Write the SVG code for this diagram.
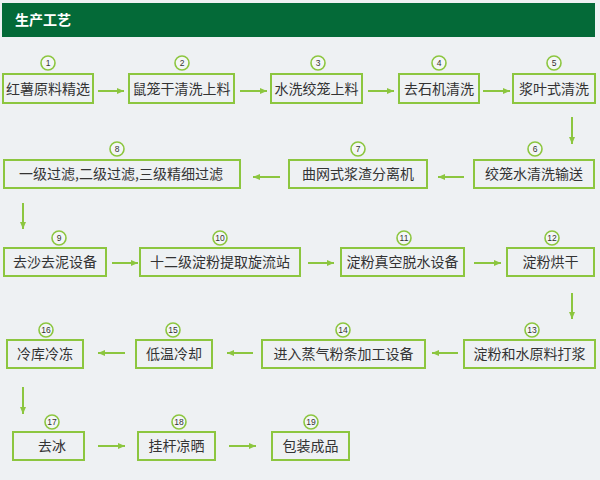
<svg xmlns="http://www.w3.org/2000/svg" width="600" height="480" viewBox="0 0 600 480">
<defs>
<style>
.box{fill:#eef1f3;stroke:#8cc63f;stroke-width:2}
.t{font-family:"Noto Sans CJK SC","Liberation Sans",sans-serif;font-size:14px;fill:#333;text-anchor:middle}
.c{fill:#f4f6f7;stroke:#8cc63f;stroke-width:1.6}
.n{font-family:"Liberation Sans","Noto Sans CJK SC",sans-serif;font-size:8.5px;fill:#333;text-anchor:middle}
.a{stroke:#8cc63f;stroke-width:2;fill:none;marker-end:url(#ah)}
</style>
<marker id="ah" markerUnits="userSpaceOnUse" markerWidth="8" markerHeight="8" refX="7" refY="4" orient="auto">
<path d="M0,1 L7,4 L0,7 Z" fill="#8cc63f"/>
</marker>
</defs>
<rect x="0" y="0" width="600" height="480" fill="#eef1f3"/>
<g id="header">
<rect x="2" y="3" width="593" height="34" fill="#046a38"/>
<text x="15" y="25" font-family="Noto Sans CJK SC,sans-serif" font-size="14" font-weight="bold" fill="#fff">生产工艺</text>
</g>
<g id="connectors">
<line class="a" x1="98" y1="91" x2="124" y2="91"/>
<line class="a" x1="240" y1="91" x2="267" y2="91"/>
<line class="a" x1="368" y1="91" x2="394" y2="91"/>
<line class="a" x1="483" y1="91" x2="510" y2="91"/>
<line class="a" x1="572" y1="117" x2="572" y2="144"/>
<line class="a" x1="464" y1="177" x2="438" y2="177"/>
<line class="a" x1="280" y1="177" x2="253" y2="177"/>
<line class="a" x1="23" y1="203" x2="23" y2="229"/>
<line class="a" x1="112" y1="263" x2="138" y2="263"/>
<line class="a" x1="308" y1="263" x2="334" y2="263"/>
<line class="a" x1="474" y1="263" x2="501" y2="263"/>
<line class="a" x1="572" y1="293" x2="572" y2="319"/>
<line class="a" x1="458" y1="353" x2="432" y2="353"/>
<line class="a" x1="253" y1="353" x2="227" y2="353"/>
<line class="a" x1="125" y1="353" x2="98" y2="353"/>
<line class="a" x1="23" y1="387" x2="23" y2="414"/>
<line class="a" x1="98" y1="446" x2="125" y2="446"/>
<line class="a" x1="229" y1="446" x2="256" y2="446"/>
</g>
<g id="n1"><rect class="box" x="3" y="74" width="90" height="29"/><text class="t" x="48" y="93.5">红薯原料精选</text><circle class="c" cx="48" cy="63" r="7"/><text class="n" x="48" y="66">1</text></g>
<g id="n2"><rect class="box" x="129" y="74" width="105" height="29"/><text class="t" x="181.5" y="93.5">鼠笼干清洗上料</text><circle class="c" cx="182" cy="63" r="7"/><text class="n" x="182" y="66">2</text></g>
<g id="n3"><rect class="box" x="271" y="74" width="91" height="29"/><text class="t" x="316.5" y="93.5">水洗绞笼上料</text><circle class="c" cx="318" cy="63" r="7"/><text class="n" x="318" y="66">3</text></g>
<g id="n4"><rect class="box" x="399" y="74" width="80" height="29"/><text class="t" x="439" y="93.5">去石机清洗</text><circle class="c" cx="439" cy="63" r="7"/><text class="n" x="439" y="66">4</text></g>
<g id="n5"><rect class="box" x="513" y="74" width="82" height="29"/><text class="t" x="554" y="93.5">浆叶式清洗</text><circle class="c" cx="554" cy="63" r="7"/><text class="n" x="554" y="66">5</text></g>
<g id="n6"><rect class="box" x="474" y="160" width="120" height="28"/><text class="t" x="534" y="179">绞笼水清洗输送</text><circle class="c" cx="535" cy="149" r="7"/><text class="n" x="535" y="152">6</text></g>
<g id="n7"><rect class="box" x="289" y="160" width="138" height="28"/><text class="t" x="358" y="179">曲网式浆渣分离机</text><circle class="c" cx="358" cy="149" r="7"/><text class="n" x="358" y="152">7</text></g>
<g id="n8"><rect class="box" x="4" y="160" width="236" height="28"/><text class="t" x="121" y="179">一级过滤,二级过滤,三级精细过滤</text><circle class="c" cx="117" cy="149" r="7"/><text class="n" x="117" y="152">8</text></g>
<g id="n9"><rect class="box" x="4" y="248" width="102" height="28"/><text class="t" x="55" y="267">去沙去泥设备</text><circle class="c" cx="59" cy="238" r="7"/><text class="n" x="59" y="241">9</text></g>
<g id="n10"><rect class="box" x="140" y="248" width="160" height="28"/><text class="t" x="220" y="267">十二级淀粉提取旋流站</text><circle class="c" cx="220" cy="238" r="7"/><text class="n" x="220" y="241">10</text></g>
<g id="n11"><rect class="box" x="341" y="248" width="123" height="28"/><text class="t" x="402.5" y="267">淀粉真空脱水设备</text><circle class="c" cx="404" cy="238" r="7"/><text class="n" x="404" y="241">11</text></g>
<g id="n12"><rect class="box" x="507" y="248" width="87" height="28"/><text class="t" x="550.5" y="267">淀粉烘干</text><circle class="c" cx="552" cy="238" r="7"/><text class="n" x="552" y="241">12</text></g>
<g id="n13"><rect class="box" x="464" y="340" width="131" height="28"/><text class="t" x="529.5" y="359">淀粉和水原料打浆</text><circle class="c" cx="532" cy="330" r="7"/><text class="n" x="532" y="333">13</text></g>
<g id="n14"><rect class="box" x="262" y="340" width="163" height="28"/><text class="t" x="343.5" y="359">进入蒸气粉条加工设备</text><circle class="c" cx="343" cy="330" r="7"/><text class="n" x="343" y="333">14</text></g>
<g id="n15"><rect class="box" x="136" y="340" width="76" height="28"/><text class="t" x="174" y="359">低温冷却</text><circle class="c" cx="173" cy="330" r="7"/><text class="n" x="173" y="333">15</text></g>
<g id="n16"><rect class="box" x="7" y="340" width="76" height="28"/><text class="t" x="45" y="359">冷库冷冻</text><circle class="c" cx="46" cy="330" r="7"/><text class="n" x="46" y="333">16</text></g>
<g id="n17"><rect class="box" x="13" y="432" width="71" height="28"/><text class="t" x="52" y="451">去冰</text><circle class="c" cx="52" cy="422" r="7"/><text class="n" x="52" y="425">17</text></g>
<g id="n18"><rect class="box" x="138" y="432" width="77" height="28"/><text class="t" x="176.5" y="451">挂杆凉晒</text><circle class="c" cx="179" cy="422" r="7"/><text class="n" x="179" y="425">18</text></g>
<g id="n19"><rect class="box" x="272" y="432" width="77" height="28"/><text class="t" x="310.5" y="451">包装成品</text><circle class="c" cx="311" cy="422" r="7"/><text class="n" x="311" y="425">19</text></g>
</svg>
